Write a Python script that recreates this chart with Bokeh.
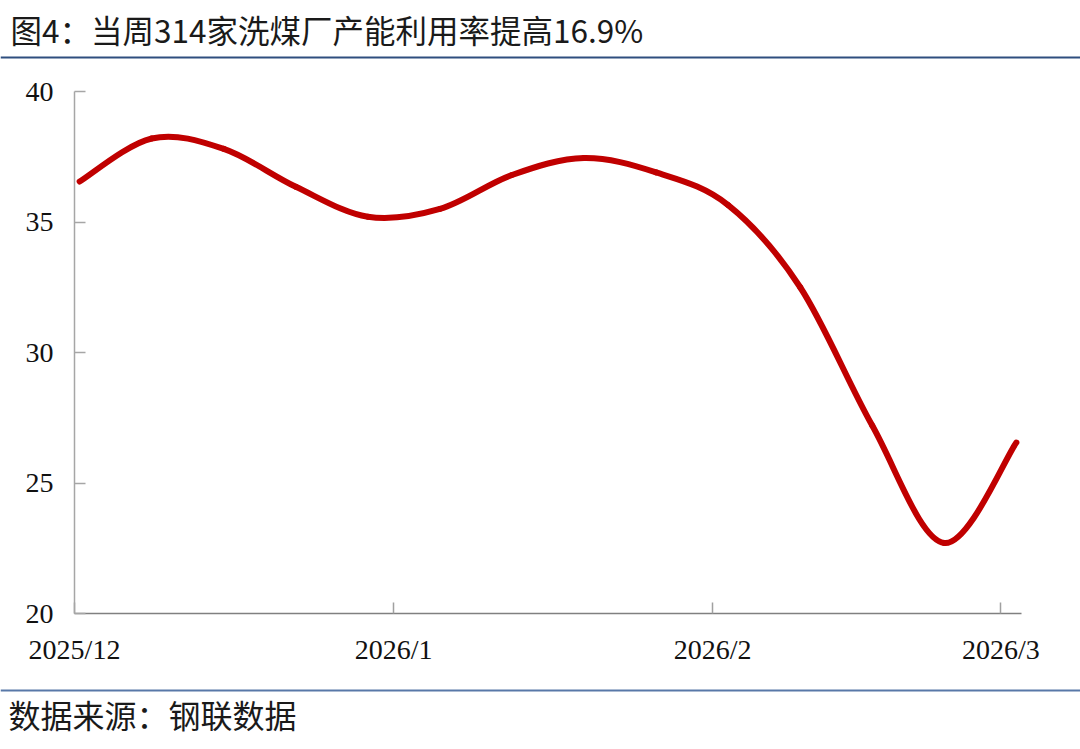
import pandas as pd
from bokeh.plotting import figure
from bokeh.layouts import column
from bokeh.models import Range1d, FixedTicker, ColumnDataSource
from bokeh.core.properties import value
from bokeh.embed import file_html
from bokeh.resources import INLINE

# ---------------- data ----------------
dates = ["2025-12-01 12:00", "2025-12-08 12:00", "2025-12-15 12:00", "2025-12-22 12:00",
         "2025-12-29 12:00", "2026-01-05 12:00", "2026-01-12 12:00", "2026-01-19 12:00",
         "2026-01-26 12:00", "2026-02-02 12:00", "2026-02-09 12:00", "2026-02-16 12:00",
         "2026-02-23 12:00", "2026-03-02 12:00"]
values = [36.55, 38.2, 37.8, 36.35, 35.2,
          35.5, 36.8, 37.45, 36.9,
          35.65, 32.5, 27.2, 22.7, 26.55]
tick_dates = ["2025-12-01", "2026-01-01", "2026-02-01", "2026-03-01"]
tick_labels = ["2025/12", "2026/1", "2026/2", "2026/3"]
y_ticks = [20, 25, 30, 35, 40]
title_text = "图4：当周314家洗煤厂产能利用率提高16.9%"
source_text = "数据来源：钢联数据"

# ---------------- helpers ----------------
def to_ms(d):
    return pd.Timestamp(d).value / 1e6

xs = [to_ms(d) for d in dates]
ys = list(values)

# smooth curve through the points (Catmull-Rom -> cubic Bezier segments)
n = len(xs)
seg = dict(x0=[], y0=[], x1=[], y1=[], cx0=[], cy0=[], cx1=[], cy1=[])
for i in range(n - 1):
    p0 = (xs[max(i - 1, 0)], ys[max(i - 1, 0)])
    p1 = (xs[i], ys[i])
    p2 = (xs[i + 1], ys[i + 1])
    p3 = (xs[min(i + 2, n - 1)], ys[min(i + 2, n - 1)])
    seg["x0"].append(p1[0]); seg["y0"].append(p1[1])
    seg["x1"].append(p2[0]); seg["y1"].append(p2[1])
    seg["cx0"].append(p1[0] + (p2[0] - p0[0]) / 6.0)
    seg["cy0"].append(p1[1] + (p2[1] - p0[1]) / 6.0)
    seg["cx1"].append(p2[0] - (p3[0] - p1[0]) / 6.0)
    seg["cy1"].append(p2[1] - (p3[1] - p1[1]) / 6.0)
src = ColumnDataSource(seg)

W = 1080
H_TOP, H_MAIN, H_BOT = 60, 628, 61


def banner(height):
    f = figure(width=W, height=height, output_backend="svg", toolbar_location=None,
               x_range=Range1d(0, W), y_range=Range1d(height, 0),
               min_border=0, x_axis_location=None, y_axis_location=None,
               frame_align=False)
    f.outline_line_color = None
    f.xgrid.grid_line_color = None
    f.ygrid.grid_line_color = None
    f.background_fill_color = "white"
    f.border_fill_color = "white"
    return f

# ---- title band ----
top = banner(H_TOP)
top.text(x=[10], y=[28], text=[title_text], text_font=value("Noto Sans CJK SC"),
         text_font_size="31.5px", text_color="#1a1a1a",
         text_baseline="middle", text_align="left")
top.segment(x0=[0], y0=[57], x1=[W], y1=[57], line_color="#2F4F7F", line_width=2)

# ---- main chart ----
x_start = to_ms("2025-12-01")
x_end = to_ms("2026-03-03")

p = figure(width=W, height=H_MAIN, output_backend="svg", toolbar_location=None,
           x_axis_type="datetime", frame_align=False,
           x_range=Range1d(x_start, x_end), y_range=Range1d(20, 40),
           min_border_left=74, min_border_right=59, min_border_top=31, min_border_bottom=75)
p.outline_line_color = None
p.background_fill_color = "white"
p.border_fill_color = "white"
p.xgrid.grid_line_color = None
p.ygrid.grid_line_color = None

p.bezier(x0="x0", y0="y0", x1="x1", y1="y1", cx0="cx0", cy0="cy0", cx1="cx1", cy1="cy1",
         source=src, line_color="#C00000", line_width=6, line_cap="round")

tick_ms = [to_ms(d) for d in tick_dates]
p.xaxis.ticker = FixedTicker(ticks=tick_ms)
p.xaxis.major_label_overrides = {t: lab for t, lab in zip(tick_ms, tick_labels)}
p.xaxis.minor_tick_line_color = None
p.xaxis.axis_line_color = "#808080"
p.xaxis.axis_line_width = 1.5
p.xaxis.major_tick_line_color = "#A0A0A0"
p.xaxis.major_tick_line_width = 1.5
p.xaxis.major_tick_in = 11
p.xaxis.major_tick_out = 0
p.xaxis.major_label_standoff = 20
p.xaxis.major_label_text_font = "Liberation Serif"
p.xaxis.major_label_text_font_size = "28px"
p.xaxis.major_label_text_color = "#111111"

p.yaxis.ticker = FixedTicker(ticks=y_ticks)
p.yaxis.minor_tick_line_color = None
p.yaxis.axis_line_color = "#A6A6A6"
p.yaxis.axis_line_width = 1.5
p.yaxis.major_tick_line_color = "#A6A6A6"
p.yaxis.major_tick_line_width = 1.5
p.yaxis.major_tick_in = 11
p.yaxis.major_tick_out = 0
p.yaxis.major_label_standoff = 21
p.yaxis.major_label_text_font = "Liberation Serif"
p.yaxis.major_label_text_font_size = "28px"
p.yaxis.major_label_text_color = "#111111"

# ---- source band ----
bot = banner(H_BOT)
bot.segment(x0=[0], y0=[2], x1=[W], y1=[2], line_color="#5878A8", line_width=2)
bot.text(x=[8], y=[25], text=[source_text], text_font=value("Noto Sans CJK SC"),
         text_font_size="32px", text_color="#1a1a1a",
         text_baseline="middle", text_align="left")

layout = column(top, p, bot, spacing=0)
open("out.html", "w").write(file_html(layout, INLINE))
